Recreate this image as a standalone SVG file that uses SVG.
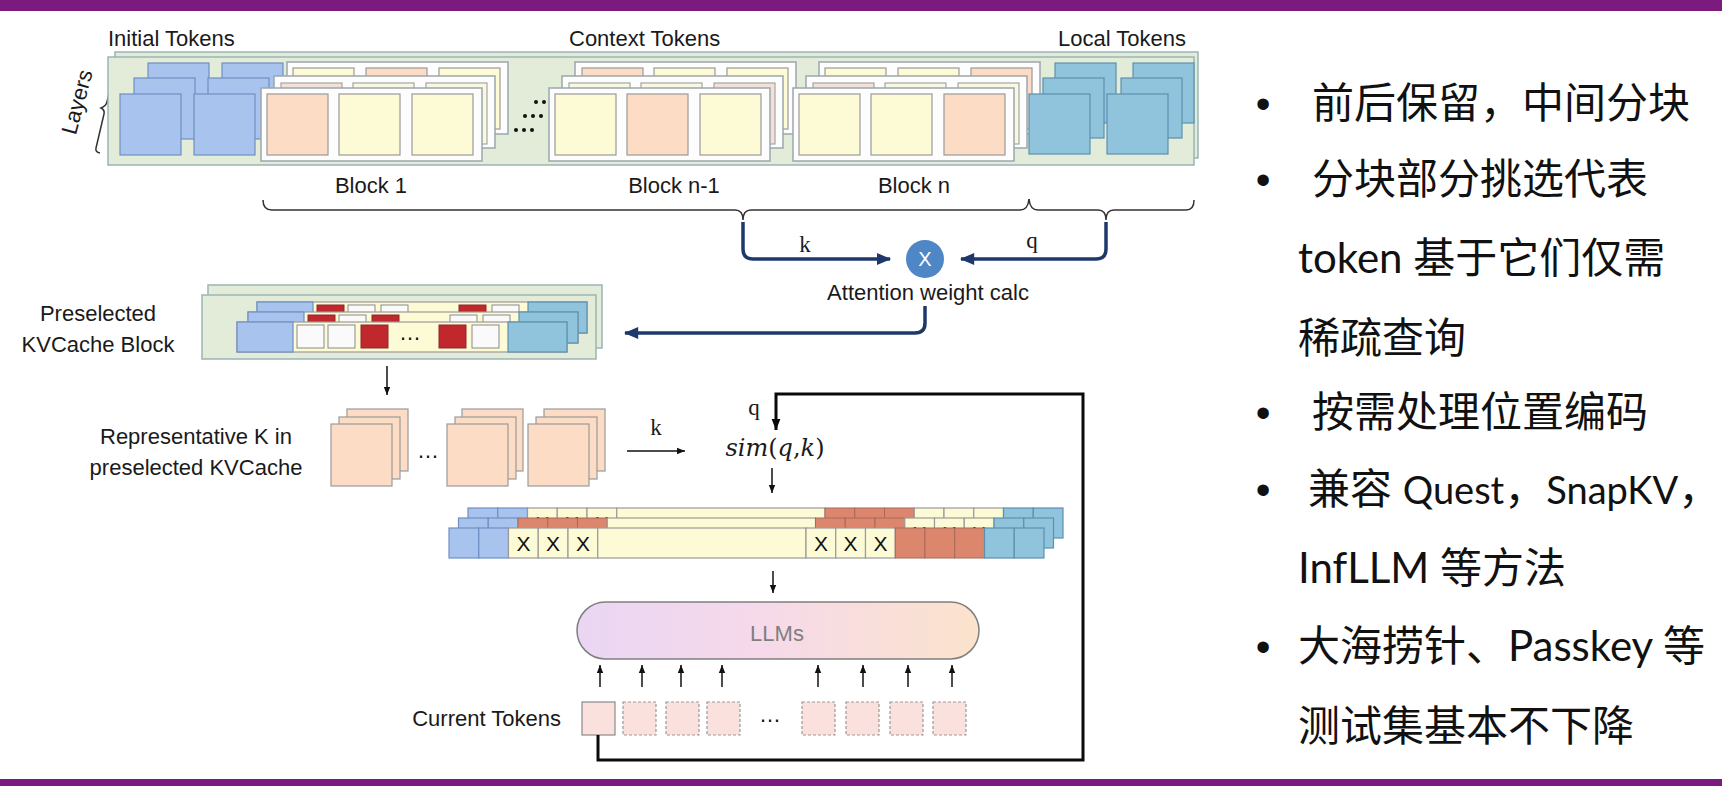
<svg xmlns="http://www.w3.org/2000/svg" width="1722" height="786" viewBox="0 0 1722 786">
<defs>
<style>
.lbl{font-family:"Liberation Sans",Arial,sans-serif;font-size:22px;fill:#1a1a1a}
.ser{font-family:"Liberation Serif","Times New Roman",serif;font-size:23px;fill:#1a1a1a}
.pan{fill:#e2ecd9;stroke:#9bb5b5;stroke-width:1.5}
.frm{fill:#fdfdfd;stroke:#9ca6ad;stroke-width:1.5}
.P{fill:#fcdcc4;stroke:#9a9a9a;stroke-width:1.2}
.Y{fill:#fcfbd6;stroke:#9a9a9a;stroke-width:1.2}
.P2{fill:#f3e0d7;stroke:#a5a5a5;stroke-width:1.2}
.Y2{fill:#f9f9e2;stroke:#a5a5a5;stroke-width:1.2}
.B{fill:#a7c3ee;stroke:#6f8fc4;stroke-width:1.2}
.T{fill:#90c3dc;stroke:#5d90ad;stroke-width:1.2}
.R{fill:#c0282d;stroke:#8a2a2a;stroke-width:1}
.W{fill:#fafafa;stroke:#8a8a8a;stroke-width:1}
.C{fill:#dc876d;stroke:#a86a58;stroke-width:1}
.xl{font-family:"Liberation Sans",Arial,sans-serif;font-size:21px;fill:#111;text-anchor:middle}
.nav{fill:none;stroke:#1f386b;stroke-width:3.5}
.thin{fill:none;stroke:#111;stroke-width:1.5}
.loop{fill:none;stroke:#0a0a0a;stroke-width:3}
.brace{fill:none;stroke:#333;stroke-width:1.5}
.cur{fill:#fbe1de;stroke:#8a8a8a;stroke-width:1.2}
.curd{fill:#fbe1de;stroke:#999;stroke-width:1.2;stroke-dasharray:3 2}
.txt{font-family:"Lato","Noto Sans CJK SC",sans-serif;font-size:42px;fill:#111}
.bul{font-family:"Liberation Sans",Arial,sans-serif;font-size:42px;fill:#111;text-anchor:middle}
.dots{font-family:"Liberation Sans",Arial,sans-serif;font-size:22px;fill:#111;text-anchor:middle}
</style>
<marker id="ah" viewBox="0 0 10 10" refX="10" refY="5" markerWidth="8" markerHeight="8" markerUnits="userSpaceOnUse" orient="auto"><path d="M0,1 L10,5 L0,9 z" fill="#111"/></marker>
<marker id="ahn" viewBox="0 0 12 10" refX="11" refY="5" markerWidth="15" markerHeight="12" markerUnits="userSpaceOnUse" orient="auto"><path d="M0,0 L12,5 L0,10 z" fill="#1f386b"/></marker>
<marker id="ahl" viewBox="0 0 10 10" refX="10" refY="5" markerWidth="11" markerHeight="11" markerUnits="userSpaceOnUse" orient="auto"><path d="M0,1 L10,5 L0,9 z" fill="#0a0a0a"/></marker>
<linearGradient id="llmg" x1="0" y1="0" x2="1" y2="0">
<stop offset="0" stop-color="#ead6f4"/>
<stop offset="0.45" stop-color="#f6d9ea"/>
<stop offset="1" stop-color="#fbe3cc"/>
</linearGradient>
</defs>

<rect x="0" y="0" width="1722" height="786" fill="#ffffff"/>
<rect x="0" y="0" width="1722" height="11" fill="#7b1b7e"/>
<rect x="0" y="779" width="1722" height="7" fill="#7b1b7e"/>

<g id="top-labels">
<text class="lbl" x="108" y="46">Initial Tokens</text>
<text class="lbl" x="569" y="46">Context Tokens</text>
<text class="lbl" x="1058" y="46">Local Tokens</text>
<text class="lbl" x="77" y="102" font-size="20" text-anchor="middle" dominant-baseline="central" transform="rotate(-75 77 102)">Layers</text>
<path class="brace" d="M121,63 Q116,63 115,67 L107,102 Q106,106 101,108 Q105,110 104,114 L96,148 Q95,152 100,153"/>
</g>

<g id="kv-layers">
<rect class="pan" x="115" y="52" width="1083" height="106"/>
<rect class="pan" x="108" y="57" width="1086" height="108"/>
</g>

<g id="initial-tokens">
<rect class="B" x="148" y="63" width="61" height="61"/>
<rect class="B" x="222" y="63" width="61" height="61"/>
<rect class="B" x="134" y="78" width="61" height="61"/>
<rect class="B" x="208" y="78" width="61" height="61"/>
<rect class="B" x="120" y="94" width="61" height="61"/>
<rect class="B" x="194" y="94" width="61" height="61"/>
</g>

<g id="block-1">
<rect class="frm" x="287" y="62" width="221" height="72"/>
<rect class="Y" x="293" y="68" width="61" height="61"/>
<rect class="P" x="366" y="68" width="61" height="61"/>
<rect class="Y" x="439" y="68" width="61" height="61"/>
<rect class="frm" x="274" y="76" width="221" height="72"/>
<rect class="P2" x="281" y="83" width="61" height="61"/>
<rect class="Y2" x="353" y="83" width="61" height="61"/>
<rect class="Y2" x="426" y="83" width="61" height="61"/>
<rect class="frm" x="261" y="88" width="221" height="73"/>
<rect class="P" x="267" y="94" width="61" height="61"/>
<rect class="Y" x="339" y="94" width="61" height="61"/>
<rect class="Y" x="412" y="94" width="61" height="61"/>
<text class="lbl" x="371" y="193" text-anchor="middle">Block 1</text>
</g>

<g id="ellipsis-top" fill="#111">
<circle cx="536" cy="102" r="2"/><circle cx="544" cy="102" r="2"/>
<circle cx="525" cy="116" r="2"/><circle cx="533" cy="116" r="2"/><circle cx="541" cy="116" r="2"/>
<circle cx="516" cy="130" r="2"/><circle cx="524" cy="130" r="2"/><circle cx="532" cy="130" r="2"/>
</g>

<g id="block-n-1">
<rect class="frm" x="575" y="62" width="221" height="72"/>
<rect class="P" x="582" y="68" width="61" height="61"/>
<rect class="Y" x="654" y="68" width="61" height="61"/>
<rect class="Y" x="727" y="68" width="61" height="61"/>
<rect class="frm" x="562" y="76" width="221" height="72"/>
<rect class="Y2" x="569" y="83" width="61" height="61"/>
<rect class="Y2" x="641" y="83" width="61" height="61"/>
<rect class="P2" x="714" y="83" width="61" height="61"/>
<rect class="frm" x="549" y="88" width="221" height="73"/>
<rect class="Y" x="555" y="94" width="61" height="61"/>
<rect class="P" x="627" y="94" width="61" height="61"/>
<rect class="Y" x="700" y="94" width="61" height="61"/>
<text class="lbl" x="674" y="193" text-anchor="middle">Block n-1</text>
</g>

<g id="block-n">
<rect class="frm" x="819" y="62" width="221" height="72"/>
<rect class="Y" x="825" y="68" width="61" height="61"/>
<rect class="Y" x="898" y="68" width="61" height="61"/>
<rect class="P" x="971" y="68" width="61" height="61"/>
<rect class="frm" x="806" y="76" width="221" height="72"/>
<rect class="P2" x="813" y="83" width="61" height="61"/>
<rect class="Y2" x="885" y="83" width="61" height="61"/>
<rect class="Y2" x="958" y="83" width="61" height="61"/>
<rect class="frm" x="793" y="88" width="221" height="73"/>
<rect class="Y" x="799" y="94" width="61" height="61"/>
<rect class="Y" x="871" y="94" width="61" height="61"/>
<rect class="P" x="944" y="94" width="61" height="61"/>
<text class="lbl" x="914" y="193" text-anchor="middle">Block n</text>
</g>

<g id="local-tokens">
<rect class="T" x="1055" y="63" width="61" height="60"/>
<rect class="T" x="1133" y="63" width="61" height="60"/>
<rect class="T" x="1043" y="78" width="61" height="60"/>
<rect class="T" x="1121" y="78" width="61" height="60"/>
<rect class="T" x="1029" y="94" width="61" height="60"/>
<rect class="T" x="1107" y="94" width="61" height="60"/>
</g>

<g id="braces">
<path class="brace" d="M263,200 Q263,210 272,210 L735,210 Q743,210 743,220 Q743,210 751,210 L1020,210 Q1028,210 1029,199"/>
<path class="brace" d="M1029,199 Q1030,210 1038,210 L1098,210 Q1106,210 1106,220 Q1106,210 1114,210 L1186,210 Q1194,210 1194,200"/>
</g>

<g id="attention-calc">
<circle cx="925" cy="259" r="19" fill="#4f86c6"/>
<text x="925" y="259" font-family="Liberation Sans, Arial, sans-serif" font-size="20" fill="#ffffff" text-anchor="middle" dominant-baseline="central">X</text>
<text class="lbl" x="928" y="300" font-size="23" text-anchor="middle">Attention weight calc</text>
<text class="ser" x="805" y="252" text-anchor="middle">k</text>
<text class="ser" x="1032" y="248" text-anchor="middle">q</text>
</g>

<g id="preselected">
<text class="lbl" x="98" y="321" text-anchor="middle">Preselected</text>
<text class="lbl" x="98" y="352" text-anchor="middle">KVCache Block</text>
<rect class="pan" x="208" y="285" width="394" height="63"/>
<rect class="pan" x="202" y="295" width="394" height="64"/>
<rect class="Y" x="257" y="302" width="330" height="31"/>
<rect class="B" x="257" y="302" width="56" height="31"/>
<rect class="T" x="528" y="302" width="59" height="31"/>
<rect class="R" x="317" y="305" width="27" height="23"/>
<rect class="W" x="348" y="305" width="27" height="23"/>
<rect class="W" x="381" y="305" width="27" height="23"/>
<rect class="R" x="459" y="305" width="27" height="23"/>
<rect class="W" x="492" y="305" width="27" height="23"/>
<rect class="Y" x="248" y="312" width="330" height="31"/>
<rect class="B" x="248" y="312" width="56" height="31"/>
<rect class="T" x="519" y="312" width="59" height="31"/>
<rect class="R" x="308" y="315" width="27" height="23"/>
<rect class="W" x="339" y="315" width="27" height="23"/>
<rect class="R" x="372" y="315" width="27" height="23"/>
<rect class="W" x="450" y="315" width="27" height="23"/>
<rect class="W" x="483" y="315" width="27" height="23"/>
<rect class="Y" x="237" y="322" width="330" height="30"/>
<rect class="B" x="237" y="322" width="56" height="30"/>
<rect class="T" x="508" y="322" width="59" height="30"/>
<rect class="W" x="297" y="325" width="27" height="23"/>
<rect class="W" x="328" y="325" width="27" height="23"/>
<rect class="R" x="361" y="325" width="27" height="23"/>
<text class="dots" x="410" y="340">…</text>
<rect class="R" x="439" y="325" width="27" height="23"/>
<rect class="W" x="472" y="325" width="27" height="23"/>
</g>

<g id="representative-k">
<text class="lbl" x="196" y="444" text-anchor="middle">Representative K in</text>
<text class="lbl" x="196" y="475" text-anchor="middle">preselected KVCache</text>
<rect class="P" x="347" y="409" width="61" height="62"/>
<rect class="P" x="339" y="417" width="61" height="62"/>
<rect class="P" x="331" y="424" width="61" height="62"/>
<text class="dots" x="428" y="458">…</text>
<rect class="P" x="462" y="409" width="61" height="62"/>
<rect class="P" x="455" y="417" width="61" height="62"/>
<rect class="P" x="447" y="424" width="61" height="62"/>
<rect class="P" x="544" y="409" width="61" height="62"/>
<rect class="P" x="536" y="417" width="61" height="62"/>
<rect class="P" x="528" y="424" width="61" height="62"/>
</g>

<g id="similarity">
<text class="ser" x="656" y="435" text-anchor="middle">k</text>
<text class="ser" x="754" y="415" text-anchor="middle">q</text>
<text x="775" y="456" font-family="DejaVu Serif, serif" font-size="24" fill="#1a1a1a" text-anchor="middle"><tspan font-style="italic">sim</tspan>(<tspan font-style="italic">q</tspan>,<tspan font-style="italic">k</tspan>)</text>
</g>

<g id="selected-row">
<rect class="B" x="468" y="508" width="29.75" height="30"/>
<rect class="B" x="497.75" y="508" width="29.75" height="30"/>
<rect class="Y" x="527.5" y="508" width="29.75" height="30"/>
<rect class="Y" x="557.25" y="508" width="29.75" height="30"/>
<rect class="Y" x="587" y="508" width="29.75" height="30"/>
<rect class="Y" x="616.75" y="508" width="208.25" height="30"/>
<rect class="C" x="825" y="508" width="29.75" height="30"/>
<rect class="C" x="854.75" y="508" width="29.75" height="30"/>
<rect class="C" x="884.5" y="508" width="29.75" height="30"/>
<rect class="Y" x="914.25" y="508" width="29.75" height="30"/>
<rect class="Y" x="944" y="508" width="29.75" height="30"/>
<rect class="Y" x="973.75" y="508" width="29.75" height="30"/>
<rect class="T" x="1003.5" y="508" width="29.75" height="30"/>
<rect class="T" x="1033.25" y="508" width="29.75" height="30"/>
<text class="xl" x="542.4" y="531">X</text><text class="xl" x="572.1" y="531">X</text><text class="xl" x="601.9" y="531">X</text>
<rect class="B" x="458.5" y="518" width="29.75" height="30"/>
<rect class="B" x="488.25" y="518" width="29.75" height="30"/>
<rect class="C" x="518" y="518" width="29.75" height="30"/>
<rect class="C" x="547.75" y="518" width="29.75" height="30"/>
<rect class="C" x="577.5" y="518" width="29.75" height="30"/>
<rect class="Y" x="607.25" y="518" width="208.25" height="30"/>
<rect class="C" x="815.5" y="518" width="29.75" height="30"/>
<rect class="C" x="845.25" y="518" width="29.75" height="30"/>
<rect class="C" x="875" y="518" width="29.75" height="30"/>
<rect class="Y" x="904.75" y="518" width="29.75" height="30"/>
<rect class="Y" x="934.5" y="518" width="29.75" height="30"/>
<rect class="Y" x="964.25" y="518" width="29.75" height="30"/>
<rect class="T" x="994" y="518" width="29.75" height="30"/>
<rect class="T" x="1023.75" y="518" width="29.75" height="30"/>
<text class="xl" x="919.6" y="541">X</text><text class="xl" x="949.4" y="541">X</text><text class="xl" x="979.1" y="541">X</text>
<rect class="B" x="449" y="528" width="29.75" height="30"/>
<rect class="B" x="478.75" y="528" width="29.75" height="30"/>
<rect class="Y" x="508.5" y="528" width="29.75" height="30"/>
<rect class="Y" x="538.25" y="528" width="29.75" height="30"/>
<rect class="Y" x="568" y="528" width="29.75" height="30"/>
<rect class="Y" x="597.75" y="528" width="208.25" height="30"/>
<rect class="Y" x="806" y="528" width="29.75" height="30"/>
<rect class="Y" x="835.75" y="528" width="29.75" height="30"/>
<rect class="Y" x="865.5" y="528" width="29.75" height="30"/>
<rect class="C" x="895.25" y="528" width="29.75" height="30"/>
<rect class="C" x="925" y="528" width="29.75" height="30"/>
<rect class="C" x="954.75" y="528" width="29.75" height="30"/>
<rect class="T" x="984.5" y="528" width="29.75" height="30"/>
<rect class="T" x="1014.25" y="528" width="29.75" height="30"/>
<text class="xl" x="523.4" y="551">X</text><text class="xl" x="553.1" y="551">X</text><text class="xl" x="582.9" y="551">X</text>
<text class="xl" x="820.9" y="551">X</text><text class="xl" x="850.6" y="551">X</text><text class="xl" x="880.4" y="551">X</text>
</g>

<g id="llms">
<rect x="577" y="602" width="402" height="57" rx="28.5" ry="28.5" fill="url(#llmg)" stroke="#7f7f7f" stroke-width="1.5"/>
<text class="lbl" x="777" y="641" text-anchor="middle" style="fill:#7f7f7f">LLMs</text>
</g>

<g id="current-tokens">
<text class="lbl" x="561" y="726" text-anchor="end">Current Tokens</text>
<rect class="cur" x="582" y="702" width="33" height="33"/>
<rect class="curd" x="623" y="702" width="33" height="33"/>
<rect class="curd" x="666" y="702" width="33" height="33"/>
<rect class="curd" x="707" y="702" width="33" height="33"/>
<text class="dots" x="770" y="722">…</text>
<rect class="curd" x="802" y="702" width="33" height="33"/>
<rect class="curd" x="846" y="702" width="33" height="33"/>
<rect class="curd" x="890" y="702" width="33" height="33"/>
<rect class="curd" x="933" y="702" width="33" height="33"/>
</g>

<g id="connectors">
<path class="nav" d="M743,222 L743,249 Q743,259 753,259 L890,259" marker-end="url(#ahn)"/>
<path class="nav" d="M1106,222 L1106,249 Q1106,259 1096,259 L961,259" marker-end="url(#ahn)"/>
<path class="nav" d="M925,306 L925,323 Q925,333 915,333 L625,333" marker-end="url(#ahn)"/>
<path class="thin" d="M387,366 L387,395" marker-end="url(#ah)"/>
<path class="thin" d="M627,451 L685,451" marker-end="url(#ah)"/>
<path class="thin" d="M772,468 L772,493" marker-end="url(#ah)"/>
<path class="thin" d="M773,571 L773,593" marker-end="url(#ah)"/>
<path class="thin" d="M600,687 L600,665" marker-end="url(#ah)"/>
<path class="thin" d="M642,687 L642,665" marker-end="url(#ah)"/>
<path class="thin" d="M681,687 L681,665" marker-end="url(#ah)"/>
<path class="thin" d="M722,687 L722,665" marker-end="url(#ah)"/>
<path class="thin" d="M818,687 L818,665" marker-end="url(#ah)"/>
<path class="thin" d="M863,687 L863,665" marker-end="url(#ah)"/>
<path class="thin" d="M908,687 L908,665" marker-end="url(#ah)"/>
<path class="thin" d="M952,687 L952,665" marker-end="url(#ah)"/>
<path class="loop" d="M598,735 L598,760 L1083,760 L1083,394 L776,394 L776,430" marker-end="url(#ahl)"/>
</g>

<g id="bullets">
<text class="bul" x="1263" y="118">•</text>
<text class="bul" x="1263" y="194">•</text>
<text class="bul" x="1263" y="427">•</text>
<text class="bul" x="1263" y="504">•</text>
<text class="bul" x="1263" y="661">•</text>
<text class="txt" x="1312" y="118">前后保留，中间分块</text>
<text class="txt" x="1312" y="194">分块部分挑选代表</text>
<text class="txt" x="1298" y="273">token 基于它们仅需</text>
<text class="txt" x="1298" y="353">稀疏查询</text>
<text class="txt" x="1312" y="427">按需处理位置编码</text>
<text class="txt" x="1308" y="504">兼容 <tspan font-size="38">Quest</tspan>，<tspan font-size="38">SnapKV</tspan>，</text>
<text class="txt" x="1298" y="583">InfLLM 等方法</text>
<text class="txt" x="1298" y="661">大海捞针、Passkey 等</text>
<text class="txt" x="1298" y="741">测试集基本不下降</text>
</g>
</svg>
